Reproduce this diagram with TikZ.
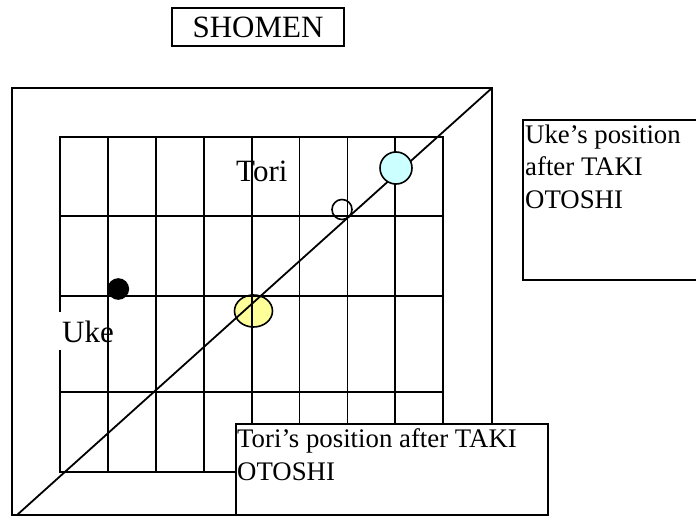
\documentclass[tikz,border=0pt]{standalone}
\usepackage{fontspec}
\setmainfont{Liberation Serif}
\usetikzlibrary{positioning,shapes.geometric}
\definecolor{ukefill}{HTML}{CCFFFF}
\definecolor{torifill}{HTML}{FFFF99}

\begin{document}
\begin{tikzpicture}[
    x=1pt, y=-1pt,
    rule/.style={line width=1.8pt},
    frame/.style={draw, line width=1.8pt, inner sep=0pt, outer sep=0pt, anchor=north west},
    big/.style={font=\fontsize{31}{36}\selectfont, inner sep=0pt},
    note/.style={font=\fontsize{26.8}{32.5}\selectfont, inner sep=0pt, align=left},
    spot/.style={circle, draw, line width=1.6pt, inner sep=0pt}
]
    \useasboundingbox (0,0) rectangle (696,516);

    % mat and tatami grid
    \node[frame, minimum width=480pt, minimum height=427pt] (mat) at (12,88) {};
    \node[frame, minimum width=383pt, minimum height=335pt] (grid) at (60,137) {};
    \node[big, fill=white, inner xsep=4pt, inner ysep=8pt, anchor=base west] (uke) at (58,342) {Uke};

    \node[spot, ellipse, fill=torifill, minimum width=38pt, minimum height=32pt] (toriend) at (253.5,311) {};

    \foreach \x in {1,...,7}
        \draw[rule] (60+47.9*\x,137) -- (60+47.9*\x,472);
    \foreach \y in {216,296,392}
        \draw[rule] (60,\y) -- (443,\y);

    \coordinate (corner) at (17,515);
    \draw[rule] (corner) -- (mat.north east);

    \node[spot, fill=ukefill, minimum size=32pt] (ukeend) at (396,168) {};
    \node[spot, minimum size=20pt] (toristart) at (342,209.5) {};
    \node[spot, fill=black, minimum size=20pt] (ukestart) at (118.3,289) {};

    \node[big, anchor=base west] (tori) at (236,182) {Tori};

    % notes
    \node[frame, fill=white, minimum width=312pt, minimum height=91pt] (toribox) at (236,424) {};
    \node[note, below right=4.7pt and 1pt of toribox.north west] (torinote) {Tori’s position after TAKI\\OTOSHI};

    \node[frame, minimum width=180pt, minimum height=160pt] (ukebox) at (523,120) {};
    \node[note, below right=4.7pt and 2pt of ukebox.north west] (ukenote) {Uke’s position\\after TAKI\\OTOSHI};

    \node[frame, big, minimum width=172pt, minimum height=38pt] (shomen) at (172,8) {SHOMEN};
\end{tikzpicture}
\end{document}
